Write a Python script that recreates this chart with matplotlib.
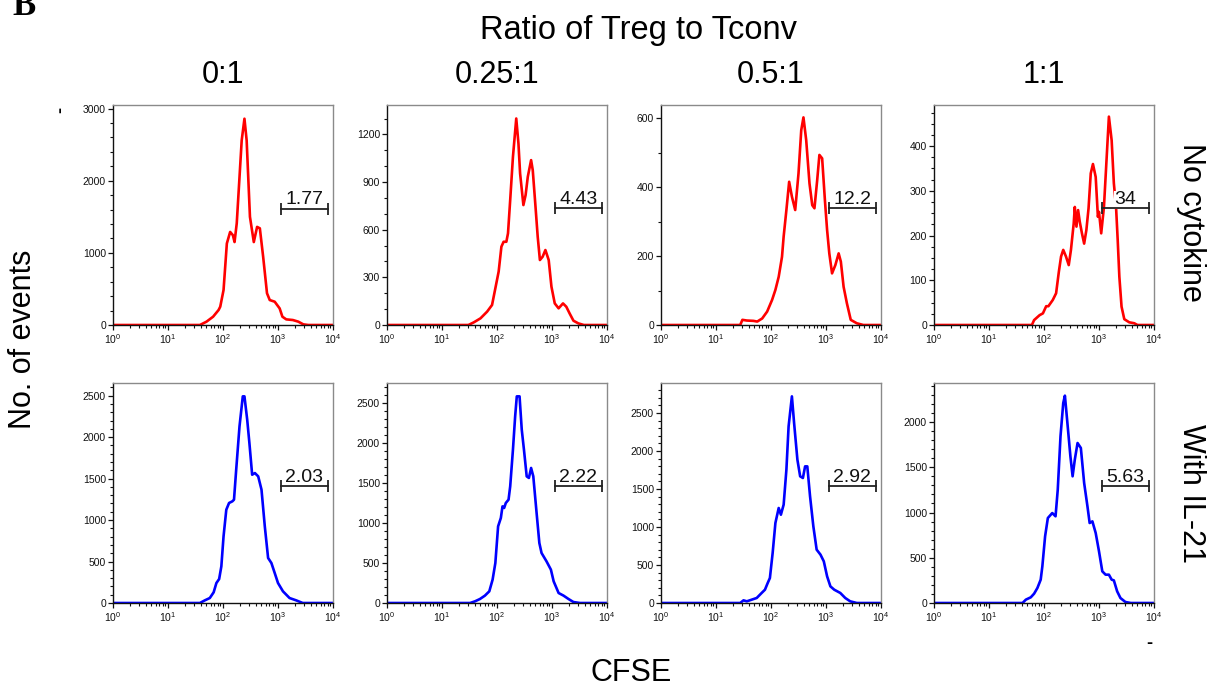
import matplotlib
matplotlib.use("Agg")
import matplotlib.pyplot as plt
from matplotlib.ticker import LogLocator, AutoMinorLocator, MultipleLocator, NullFormatter
import numpy as np

plt.rcParams['font.family'] = ['Liberation Sans', 'DejaVu Sans']
plt.rcParams['mathtext.fontset'] = 'custom'
plt.rcParams['mathtext.rm'] = 'Liberation Sans'
plt.rcParams['mathtext.it'] = 'Liberation Sans:italic'

ratios = ["0:1", "0.25:1", "0.5:1", "1:1"]
conditions = ["No cytokine", "With IL-21"]

# CFSE histograms: log10(CFSE) and No. of events
noc_0_log = [0, 1.58, 1.70, 1.82, 1.92, 1.95, 2.01, 2.07, 2.13, 2.18, 2.21, 2.25, 2.34, 2.39,
             2.43, 2.49, 2.56, 2.62, 2.67, 2.73, 2.80, 2.85, 2.94, 3.03, 3.08, 3.15, 3.27,
             3.37, 3.46, 3.55, 4]
noc_0_n = [0, 0, 46, 115, 208, 254, 485, 1130, 1290, 1245, 1150, 1410, 2560, 2860,
           2560, 1500, 1150, 1360, 1340, 946, 440, 346, 323, 230, 115, 78, 69,
           46, 9, 0, 0]

noc_1_log = [0, 1.48, 1.58, 1.70, 1.82, 1.91, 1.97, 2.03, 2.08, 2.12, 2.17, 2.20, 2.24, 2.29,
             2.35, 2.39, 2.42, 2.48, 2.52, 2.56, 2.62, 2.65, 2.70, 2.74, 2.78, 2.83, 2.88,
             2.94, 2.99, 3.05, 3.12, 3.20, 3.26, 3.32, 3.39, 3.48, 3.58, 4]
noc_1_n = [0, 0, 17, 42, 84, 126, 231, 336, 493, 524, 524, 577, 787, 1059,
           1300, 1143, 954, 755, 818, 933, 1038, 975, 745, 556, 409, 430, 472,
           409, 241, 136, 105, 136, 115, 73, 27, 10, 0, 0]

noc_2_log = [0, 1.44, 1.48, 1.56, 1.68, 1.75, 1.84, 1.93, 2.02, 2.08, 2.14, 2.20, 2.23, 2.28,
             2.33, 2.38, 2.44, 2.50, 2.55, 2.59, 2.64, 2.70, 2.75, 2.79, 2.84, 2.88, 2.93,
             2.98, 3.02, 3.06, 3.11, 3.17, 3.23, 3.27, 3.32, 3.38, 3.45, 3.56, 3.68, 4]
noc_2_n = [0, 0, 15, 13, 12, 10, 19, 39, 73, 102, 140, 198, 257, 334,
           416, 373, 334, 440, 566, 603, 537, 411, 348, 339, 421, 494, 484,
           363, 276, 208, 150, 174, 208, 184, 111, 63, 15, 5, 0, 0]

noc_3_log = [0, 1.78, 1.82, 1.92, 1.98, 2.04, 2.08, 2.16, 2.22, 2.27, 2.31, 2.35, 2.40, 2.45,
             2.49, 2.54, 2.56, 2.59, 2.62, 2.65, 2.69, 2.73, 2.77, 2.81, 2.85, 2.89, 2.94,
             2.98, 3.00, 3.04, 3.09, 3.14, 3.18, 3.23, 3.27, 3.31, 3.34, 3.37, 3.41, 3.46,
             3.55, 3.64, 3.70, 4]
noc_3_n = [0, 0, 11, 22, 26, 42, 42, 56, 71, 119, 153, 168, 153, 134,
           168, 227, 264, 220, 257, 231, 205, 182, 212, 261, 339, 360, 331,
           242, 253, 205, 264, 376, 466, 413, 317, 264, 190, 108, 41, 13,
           6, 4, 0, 0]

il21_0_log = [0, 1.58, 1.67, 1.76, 1.83, 1.88, 1.93, 1.97, 2.01, 2.06, 2.11, 2.17, 2.20, 2.24,
              2.30, 2.36, 2.39, 2.44, 2.48, 2.53, 2.58, 2.64, 2.70, 2.76, 2.82, 2.88, 2.94,
              3.00, 3.09, 3.21, 3.33, 3.45, 4]
il21_0_n = [0, 0, 32, 60, 129, 241, 289, 442, 804, 1125, 1206, 1226, 1246, 1608,
            2130, 2492, 2492, 2211, 1929, 1547, 1567, 1527, 1367, 924, 543, 482, 362,
            241, 141, 60, 32, 0, 0]

il21_1_log = [0, 1.51, 1.60, 1.69, 1.78, 1.86, 1.92, 1.97, 2.02, 2.07, 2.10, 2.13, 2.16, 2.21,
              2.24, 2.29, 2.33, 2.36, 2.41, 2.45, 2.49, 2.54, 2.58, 2.62, 2.66, 2.72, 2.77,
              2.81, 2.90, 2.98, 3.03, 3.12, 3.21, 3.30, 3.39, 3.51, 4]
il21_1_n = [0, 0, 21, 50, 92, 146, 292, 500, 958, 1063, 1208, 1188, 1250, 1292,
            1458, 1917, 2333, 2583, 2583, 2167, 1917, 1583, 1563, 1688, 1583, 1125, 750,
            625, 521, 417, 271, 125, 92, 50, 12, 0, 0]

il21_2_log = [0, 1.44, 1.50, 1.56, 1.65, 1.74, 1.83, 1.89, 1.94, 1.98, 2.03, 2.08, 2.14, 2.18,
              2.23, 2.28, 2.32, 2.38, 2.42, 2.48, 2.53, 2.58, 2.62, 2.66, 2.71, 2.77, 2.83,
              2.90, 2.96, 3.02, 3.08, 3.15, 3.26, 3.35, 3.44, 3.56, 4]
il21_2_n = [0, 0, 35, 22, 44, 66, 132, 175, 263, 329, 658, 1053, 1250, 1162,
            1294, 1754, 2325, 2719, 2368, 1886, 1667, 1645, 1798, 1798, 1404, 1009, 702,
            636, 548, 351, 219, 175, 132, 66, 22, 0, 0]

il21_3_log = [0, 1.61, 1.67, 1.76, 1.82, 1.88, 1.94, 1.97, 2.02, 2.07, 2.15, 2.21, 2.25, 2.30,
              2.35, 2.38, 2.42, 2.48, 2.52, 2.56, 2.61, 2.67, 2.73, 2.79, 2.83, 2.88, 2.94,
              3.00, 3.06, 3.12, 3.18, 3.23, 3.27, 3.33, 3.39, 3.48, 3.58, 4]
il21_3_n = [0, 0, 37, 63, 103, 166, 258, 405, 737, 939, 994, 958, 1252, 1842,
            2210, 2291, 2026, 1621, 1400, 1584, 1768, 1713, 1326, 1068, 884, 902, 773,
            571, 350, 313, 313, 258, 250, 129, 55, 11, 0, 0]

# gate (percent of cells in the right-hand region)
gate_lo, gate_hi = 10 ** 3.05, 10 ** 3.90
gate_pct_noc = ["1.77", "4.43", "12.2", "34"]
gate_pct_il21 = ["2.03", "2.22", "2.92", "5.63"]
gate_y_noc = [1615, 734, 339, 261]
gate_y_il21 = [1407, 1458, 1535, 1289]

# y-axis tick step and top per panel
ystep_noc = [1000, 300, 200, 100]
ytop_noc = [3050, 1385, 639, 492]
ystep_il21 = [500, 500, 500, 500]
ytop_il21 = [2653, 2750, 2895, 2431]
yminor_noc = [5, 3, 2, 4]
yminor_il21 = [5, 5, 5, 5]

rows = [
    dict(curves=[(noc_0_log, noc_0_n), (noc_1_log, noc_1_n), (noc_2_log, noc_2_n), (noc_3_log, noc_3_n)],
         color="#ff0000", pct=gate_pct_noc, gy=gate_y_noc, step=ystep_noc, top=ytop_noc, minor=yminor_noc),
    dict(curves=[(il21_0_log, il21_0_n), (il21_1_log, il21_1_n), (il21_2_log, il21_2_n), (il21_3_log, il21_3_n)],
         color="#0000ff", pct=gate_pct_il21, gy=gate_y_il21, step=ystep_il21, top=ytop_il21, minor=yminor_il21),
]

W, H = 1215, 688
fig = plt.figure(figsize=(W / 100, H / 100), dpi=100)

col_left = [113, 387, 661, 934]
row_top = [105, 383]
box = 220

for r, row in enumerate(rows):
    for c in range(4):
        ax = fig.add_axes([col_left[c] / W, 1 - (row_top[r] + box) / H, box / W, box / H])
        lg, n = row["curves"][c]
        ax.plot(np.power(10.0, lg), n, color=row["color"], lw=1.9, zorder=2)
        ax.set_xscale("log")
        ax.set_xlim(1, 1e4)
        ax.set_ylim(0, row["top"][c])
        ax.xaxis.set_major_locator(LogLocator(base=10, numticks=10))
        ax.xaxis.set_minor_locator(LogLocator(base=10, subs=np.arange(2, 10), numticks=20))
        ax.xaxis.set_minor_formatter(NullFormatter())
        ax.yaxis.set_major_locator(MultipleLocator(row["step"][c]))
        ax.yaxis.set_minor_locator(AutoMinorLocator(row["minor"][c]))
        ax.tick_params(axis="both", which="major", labelsize=7.5, length=3.5, width=0.9,
                       pad=1.5, colors="#111111")
        ax.tick_params(axis="both", which="minor", length=2, width=0.8, colors="#111111")
        for s in ("top", "right"):
            ax.spines[s].set_color("#8a8a8a")
            ax.spines[s].set_linewidth(1.0)
        for s in ("left", "bottom"):
            ax.spines[s].set_color("#111111")
            ax.spines[s].set_linewidth(1.0)

        gy = row["gy"][c]
        ax.plot([gate_lo, gate_hi], [gy, gy], color="#222222", lw=1.3, marker="|",
                markersize=9, markeredgewidth=1.3, zorder=4)
        ax.annotate(row["pct"][c], xy=(np.sqrt(gate_lo * gate_hi), gy), xytext=(0, 3),
                    textcoords="offset points", ha="center", va="baseline", fontsize=14,
                    color="#111111", zorder=3,
                    bbox=dict(fc="white", ec="none", pad=0.3))

# column headers
for c, lab in enumerate(ratios):
    fig.text((col_left[c] + box / 2) / W, 1 - 75 / H, lab, ha="center", va="center", fontsize=22)
fig.text(639 / W, 1 - 30 / H, "Ratio of Treg to Tconv", ha="center", va="center", fontsize=23.5)

# row labels
fig.text(1191 / W, 1 - 222 / H, conditions[0], ha="center", va="center", rotation=-90, fontsize=22)
fig.text(1191 / W, 1 - 493 / H, conditions[1], ha="center", va="center", rotation=-90, fontsize=22)

fig.text(23 / W, 1 - 339 / H, "No. of events", ha="center", va="center", rotation=90, fontsize=22)
fig.text(631 / W, 1 - 673 / H, "CFSE", ha="center", va="center", fontsize=22)

# panel letter, cut off at the top edge as in the source figure
fig.text(12 / W, 1 - 15 / H, "B", ha="left", va="baseline", fontsize=25, fontweight="bold",
         family=["Liberation Serif", "DejaVu Serif"])
# stray marks left in the figure
fig.text(61 / W, 1 - 110 / H, "-", ha="center", va="center", rotation=90, fontsize=13, fontweight="bold")
fig.text(1149 / W, 1 - 644 / H, "-", ha="center", va="center", fontsize=13, fontweight="bold")

fig.savefig("out.png", dpi=100)
